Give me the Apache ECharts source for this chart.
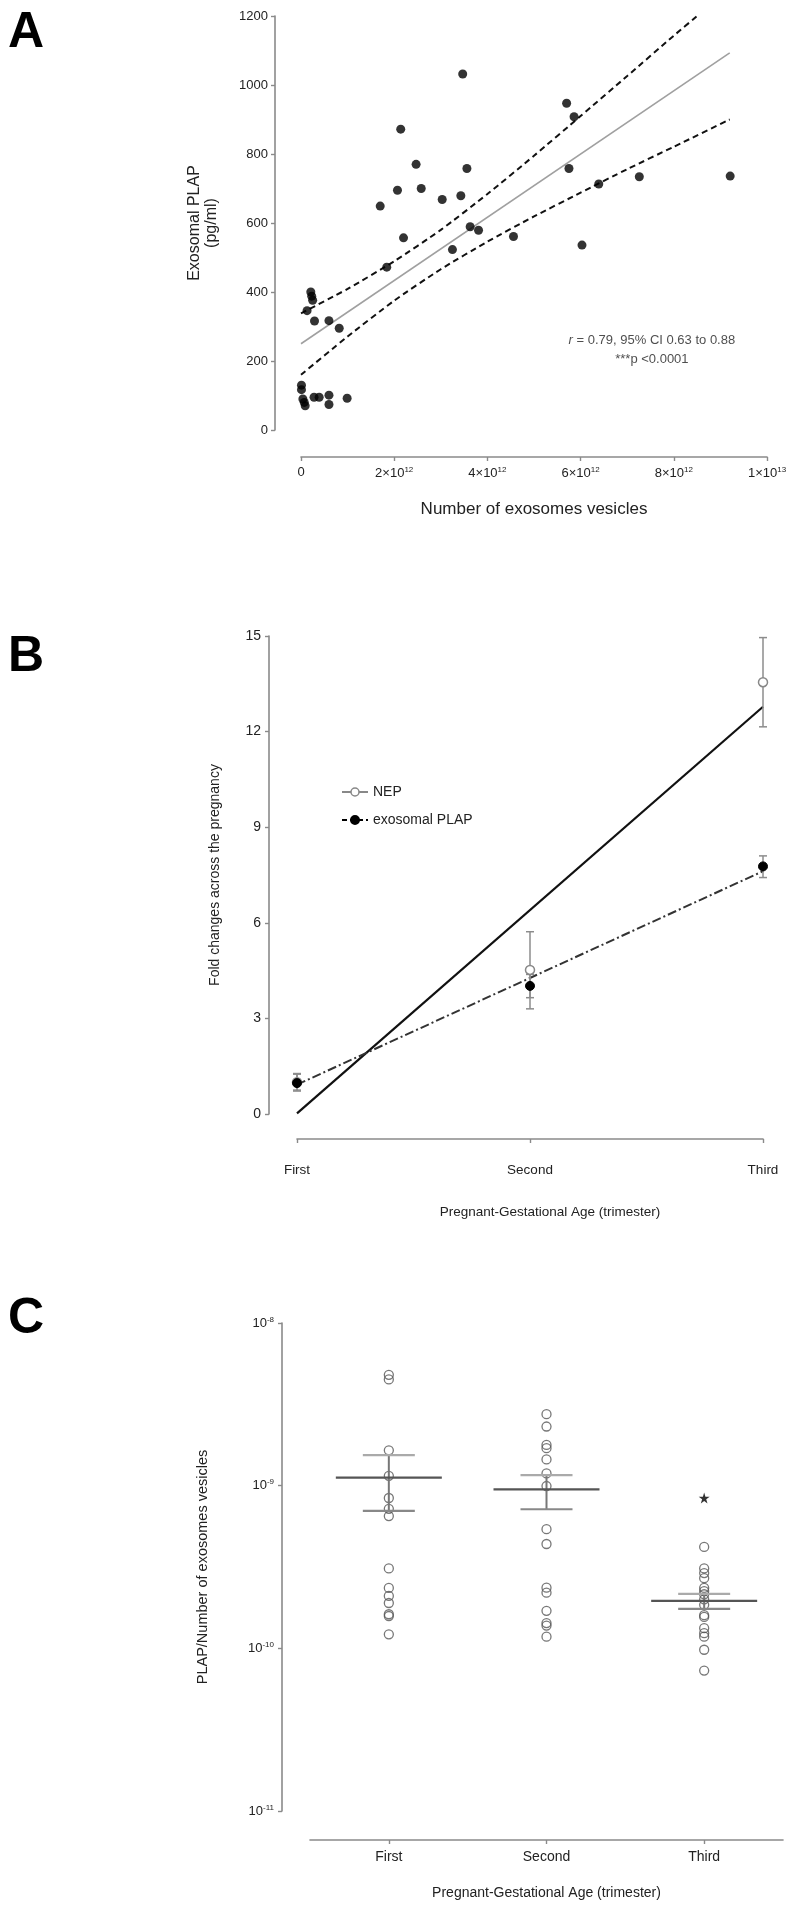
<!DOCTYPE html>
<html><head><meta charset="utf-8">
<script src="https://cdn.jsdelivr.net/npm/echarts@6/dist/echarts.min.js"></script>
<style>html,body{margin:0;padding:0;background:#fff}#c{width:797px;height:1913px}</style>
</head><body><div id="c"></div>
<script>
// ---------- Panel A data (x in units of 10^12 vesicles, y in pg/ml) ----------
const exoX  = [3.47,5.70,5.86,2.14,2.47,3.56,5.75,7.26,9.21,6.39,2.07,2.58,3.03,3.43,1.70,3.63,3.81,2.20,4.56,6.03,3.25,1.84,
               0.21,0.23,0.25,0.13,0.29,0.60,0.82,0.01,0.01,0.04,0.07,0.09,0.28,0.39,0.60,0.60,0.99];
const plapY = [1032,947,908,872,770,758,758,734,736,713,695,700,668,679,649,589,579,557,561,536,523,472,
               400,388,376,346,316,317,295,130,117,90,80,70,95,95,101,74,92];
const fitX = [0, 9.2];
const fitY = [250, 1093];
const ciUpX = [0,1,2,3,4,5,6,7,8,8.5];
const ciUpY = [338,409,489,580,684,795,910,1026,1143,1200];
const ciLoX = [0,1,2,3,4,5,6,7,8,9.2];
const ciLoY = [160,271,375,466,546,619,688,756,821,900];
const xTickMantA = ['0','2','4','6','8','1'];
const xTickExpA  = ['', '12','12','12','12','13'];
const annotA = ['{i|r} = 0.79, 95% CI 0.63 to 0.88', '***p <0.0001'];
const annotPosA = [7.53, 231];

// ---------- Panel B data ----------
const trimesters = ['First','Second','Third'];
const nepMean = [1.0, 4.52, 13.55];
const nepLow  = [0.75, 3.30, 12.15];
const nepHigh = [1.25, 5.72, 14.95];
const plapMean = [0.97, 4.02, 7.77];
const plapLow  = [0.72, 3.65, 7.42];
const plapHigh = [1.27, 4.38, 8.10];
const nepFit  = [0.02, 12.78];   // at First and Third
const plapFit = [0.92, 7.62];

// ---------- Panel C data ----------
const ratioFirst  = [4.8e-9,4.5e-9,1.65e-9,1.15e-9,8.4e-10,7.2e-10,6.5e-10,3.1e-10,2.35e-10,2.1e-10,1.9e-10,1.62e-10,1.58e-10,1.22e-10];
const ratioSecond = [2.75e-9,2.31e-9,1.78e-9,1.70e-9,1.45e-9,1.19e-9,9.95e-10,5.4e-10,4.38e-10,2.36e-10,2.2e-10,1.7e-10,1.43e-10,1.38e-10,1.18e-10];
const ratioThird  = [4.2e-10,3.1e-10,2.9e-10,2.7e-10,2.35e-10,2.25e-10,2.15e-10,2.0e-10,1.85e-10,1.6e-10,1.56e-10,1.33e-10,1.24e-10,1.18e-10,9.8e-11,7.3e-11];
const ratioMean    = [1.12e-9, 9.5e-10, 1.96e-10];
const ratioSemLow  = [7.0e-10, 7.16e-10, 1.75e-10];
const ratioSemHigh = [1.54e-9, 1.16e-9, 2.16e-10];
const starValue = [8.4e-10];  // significance marker above Third

const FONT = 'Liberation Sans, Arial, Helvetica, sans-serif';
const AX = '#8a8a8a';
const TXT = '#222';
const supRich = { s: { fontSize: 8, fontFamily: FONT, color: TXT, padding: [0,0,7,0] } };

function zip(a, b){ return a.map((v,i)=>[v,b[i]]); }

function axisBase(extra){
  return Object.assign({
    nameMoveOverlap: false,
    axisLine: { show: true, onZero: false, lineStyle: { color: AX, width: 1.6 } },
    axisTick: { show: true, inside: false, length: 4, lineStyle: { color: AX, width: 1.4 } },
    splitLine: { show: false },
  }, extra);
}

function errRender(color){
  return function(params, api){
    const i = api.value(0);
    const lo = api.coord([i, api.value(1)]);
    const hi = api.coord([i, api.value(2)]);
    const w = 4;
    const st = { stroke: color, lineWidth: 1.5, fill: null };
    return { type: 'group', children: [
      { type:'line', shape:{x1:lo[0],y1:lo[1],x2:hi[0],y2:hi[1]}, style: st },
      { type:'line', shape:{x1:lo[0]-w,y1:lo[1],x2:lo[0]+w,y2:lo[1]}, style: st },
      { type:'line', shape:{x1:hi[0]-w,y1:hi[1],x2:hi[0]+w,y2:hi[1]}, style: st }
    ]};
  };
}

function semRender(params, api){
  const i = api.value(0);
  const m = api.coord([i, api.value(1)]);
  const lo = api.coord([i, api.value(2)]);
  const hi = api.coord([i, api.value(3)]);
  const wm = 53, wc = 26;
  return { type:'group', children: [
    { type:'line', shape:{x1:m[0],y1:lo[1],x2:m[0],y2:hi[1]}, style:{stroke:'#777', lineWidth:2} },
    { type:'line', shape:{x1:hi[0]-wc,y1:hi[1],x2:hi[0]+wc,y2:hi[1]}, style:{stroke:'#aaa', lineWidth:2.2} },
    { type:'line', shape:{x1:lo[0]-wc,y1:lo[1],x2:lo[0]+wc,y2:lo[1]}, style:{stroke:'#888', lineWidth:2.2} },
    { type:'line', shape:{x1:m[0]-wm,y1:m[1],x2:m[0]+wm,y2:m[1]}, style:{stroke:'#555', lineWidth:2.2} }
  ]};
}

const chart = echarts.init(document.getElementById('c'), null, { renderer: 'canvas' });

const option = {
  animation: false,
  backgroundColor: '#fff',
  textStyle: { fontFamily: FONT },
  graphic: [
    { type:'text', left: 8, top: 8, style:{ text:'A', font:'bold 50px ' + FONT, fill:'#000' } },
    { type:'text', left: 8, top: 632, style:{ text:'B', font:'bold 50px ' + FONT, fill:'#000' } },
    { type:'text', left: 8, top: 1294, style:{ text:'C', font:'bold 50px ' + FONT, fill:'#000' } }
  ],
  legend: {
    data: [
      { name:'NEP', itemStyle:{ color:'#fff', borderColor:'#888', borderWidth:1.5 }, lineStyle:{ color:'#888', width:2, opacity:1, type:'solid' } },
      { name:'exosomal PLAP', itemStyle:{ color:'#000' }, lineStyle:{ color:'#000', width:2, opacity:1, type:[5,3] } }
    ],
    orient: 'vertical', left: 336, top: 780, itemWidth: 26, itemHeight: 10, itemGap: 14,
    textStyle: { fontFamily: FONT, fontSize: 14, color: TXT }
  },
  grid: [
    { left: 301, right: 30, top: 16, height: 414 },
    { left: 297, right: 34, top: 636, height: 478 },
    { left: 310, right: 14, top: 1323, height: 488 }
  ],
  xAxis: [
    axisBase({ gridIndex:0, type:'value', min:0, max:10, interval:2, offset:27,
      name:'Number of exosomes vesicles', nameLocation:'middle', nameGap:44,
      nameTextStyle:{ fontFamily:FONT, fontSize:17, color:TXT },
      axisLabel:{ margin:9, fontFamily:FONT, fontSize:13, color:TXT,
        formatter:(v)=>{ const i = Math.round(v/2); return xTickExpA[i] ? xTickMantA[i] + '×10{s|' + xTickExpA[i] + '}' : xTickMantA[i]; },
        rich: supRich } }),
    axisBase({ gridIndex:1, type:'category', data: trimesters, boundaryGap:false, offset:25,
      name:'Pregnant-Gestational Age (trimester)', nameLocation:'middle', nameGap:66,
      nameTextStyle:{ fontFamily:FONT, fontSize:13.5, color:TXT, padding:[0,0,0,40] },
      axisTick:{ show:true, alignWithLabel:true, length:4, lineStyle:{ color:AX, width:1.4 } },
      axisLabel:{ margin:24, fontFamily:FONT, fontSize:13.5, color:TXT } }),
    axisBase({ gridIndex:2, type:'category', data: trimesters, boundaryGap:true, offset:29,
      name:'Pregnant-Gestational Age (trimester)', nameLocation:'middle', nameGap:46,
      nameTextStyle:{ fontFamily:FONT, fontSize:14, color:TXT },
      axisTick:{ show:true, alignWithLabel:true, length:4, lineStyle:{ color:AX, width:1.4 } },
      axisLabel:{ margin:10, fontFamily:FONT, fontSize:14, color:TXT } })
  ],
  yAxis: [
    axisBase({ gridIndex:0, type:'value', min:0, max:1200, interval:200, offset:26,
      name:'Exosomal PLAP\n(pg/ml)', nameLocation:'middle', nameGap:55, nameRotate:90,
      nameTextStyle:{ fontFamily:FONT, fontSize:16, lineHeight:17, color:TXT },
      axisLabel:{ margin:7, fontFamily:FONT, fontSize:13, color:TXT, formatter:(v)=>String(v) } }),
    axisBase({ gridIndex:1, type:'value', min:0, max:15, interval:3, offset:28,
      name:'Fold changes across the pregnancy', nameLocation:'middle', nameGap:47, nameRotate:90,
      nameTextStyle:{ fontFamily:FONT, fontSize:14, color:TXT },
      axisLabel:{ margin:8, fontFamily:FONT, fontSize:14, color:TXT } }),
    axisBase({ gridIndex:2, type:'log', logBase:10, min:1e-11, max:1e-8, interval:1, offset:28,
      name:'PLAP/Number of exosomes vesicles', nameLocation:'middle', nameGap:72, nameRotate:90,
      nameTextStyle:{ fontFamily:FONT, fontSize:14.5, color:TXT },
      axisLabel:{ margin:8, fontFamily:FONT, fontSize:13, color:TXT,
        formatter:(v)=> '10{s|' + Math.round(Math.log10(v)) + '}', rich: supRich } })
  ],
  series: [
    // ----- Panel A -----
    { type:'line', xAxisIndex:0, yAxisIndex:0, data: zip(ciUpX, ciUpY), smooth:0.2, symbol:'none',
      lineStyle:{ color:'#111', width:2, type:[6,4] }, z:2 },
    { type:'line', xAxisIndex:0, yAxisIndex:0, data: zip(ciLoX, ciLoY), smooth:0.2, symbol:'none',
      lineStyle:{ color:'#111', width:2, type:[6,4] }, z:2 },
    { type:'line', xAxisIndex:0, yAxisIndex:0, data: zip(fitX, fitY), symbol:'none',
      lineStyle:{ color:'#a0a0a0', width:1.6 }, z:2 },
    { type:'scatter', xAxisIndex:0, yAxisIndex:0, data: zip(exoX, plapY), symbol:'circle', symbolSize:9,
      itemStyle:{ color:'#000' }, z:3 },
    { type:'scatter', xAxisIndex:0, yAxisIndex:0, data: [annotPosA], symbolSize:0, silent:true,
      label:{ show:true, position:'inside', formatter: annotA.join('\n'), fontFamily:FONT, fontSize:13,
        lineHeight:19, color:TXT, align:'center',
        rich:{ i:{ fontStyle:'italic', fontFamily:FONT, fontSize:13, color:TXT } } } },
    // ----- Panel B -----
    { type:'line', xAxisIndex:1, yAxisIndex:1, data: [[trimesters[0], nepFit[0]], [trimesters[2], nepFit[1]]],
      symbol:'none', lineStyle:{ color:'#111', width:2.2 }, z:2 },
    { type:'line', xAxisIndex:1, yAxisIndex:1, data: [[trimesters[0], plapFit[0]], [trimesters[2], plapFit[1]]],
      symbol:'none', lineStyle:{ color:'#333', width:2, type:[9,3,2,3] }, z:2 },
    { type:'custom', xAxisIndex:1, yAxisIndex:1, renderItem: errRender('#8c8c8c'),
      data: nepMean.map((m,i)=>[i, nepLow[i], nepHigh[i]]), encode:{ x:0, y:[1,2] }, z:3 },
    { type:'custom', xAxisIndex:1, yAxisIndex:1, renderItem: errRender('#8c8c8c'),
      data: plapMean.map((m,i)=>[i, plapLow[i], plapHigh[i]]), encode:{ x:0, y:[1,2] }, z:3 },
    { name:'NEP', type:'line', xAxisIndex:1, yAxisIndex:1, data: nepMean, symbol:'circle', symbolSize:9,
      showAllSymbol:true, lineStyle:{ opacity:0 },
      itemStyle:{ color:'#fff', borderColor:'#888', borderWidth:1.5 }, z:4 },
    { name:'exosomal PLAP', type:'line', xAxisIndex:1, yAxisIndex:1, data: plapMean, symbol:'circle', symbolSize:9,
      showAllSymbol:true, lineStyle:{ opacity:0 },
      itemStyle:{ color:'#000', borderColor:'#000', borderWidth:1 }, z:5 },
    // ----- Panel C -----
    { type:'scatter', xAxisIndex:2, yAxisIndex:2, symbol:'circle', symbolSize:9,
      data: [].concat(ratioFirst.map(v=>[0,v]), ratioSecond.map(v=>[1,v]), ratioThird.map(v=>[2,v])),
      itemStyle:{ color:'rgba(255,255,255,0)', borderColor:'#555', borderWidth:1.3 }, z:3 },
    { type:'custom', xAxisIndex:2, yAxisIndex:2, renderItem: semRender,
      data: ratioMean.map((m,i)=>[i, m, ratioSemLow[i], ratioSemHigh[i]]), encode:{ x:0, y:[1,2,3] }, z:4 },
    { type:'scatter', xAxisIndex:2, yAxisIndex:2, data: starValue.map(v=>[2, v]), symbolSize:11,
      symbol:'path://M50,0 L61,35 L98,35 L68,57 L79,91 L50,70 L21,91 L32,57 L2,35 L39,35 Z',
      itemStyle:{ color:'#000' }, z:5 }
  ]
};
chart.setOption(option);
</script>
</body></html>
